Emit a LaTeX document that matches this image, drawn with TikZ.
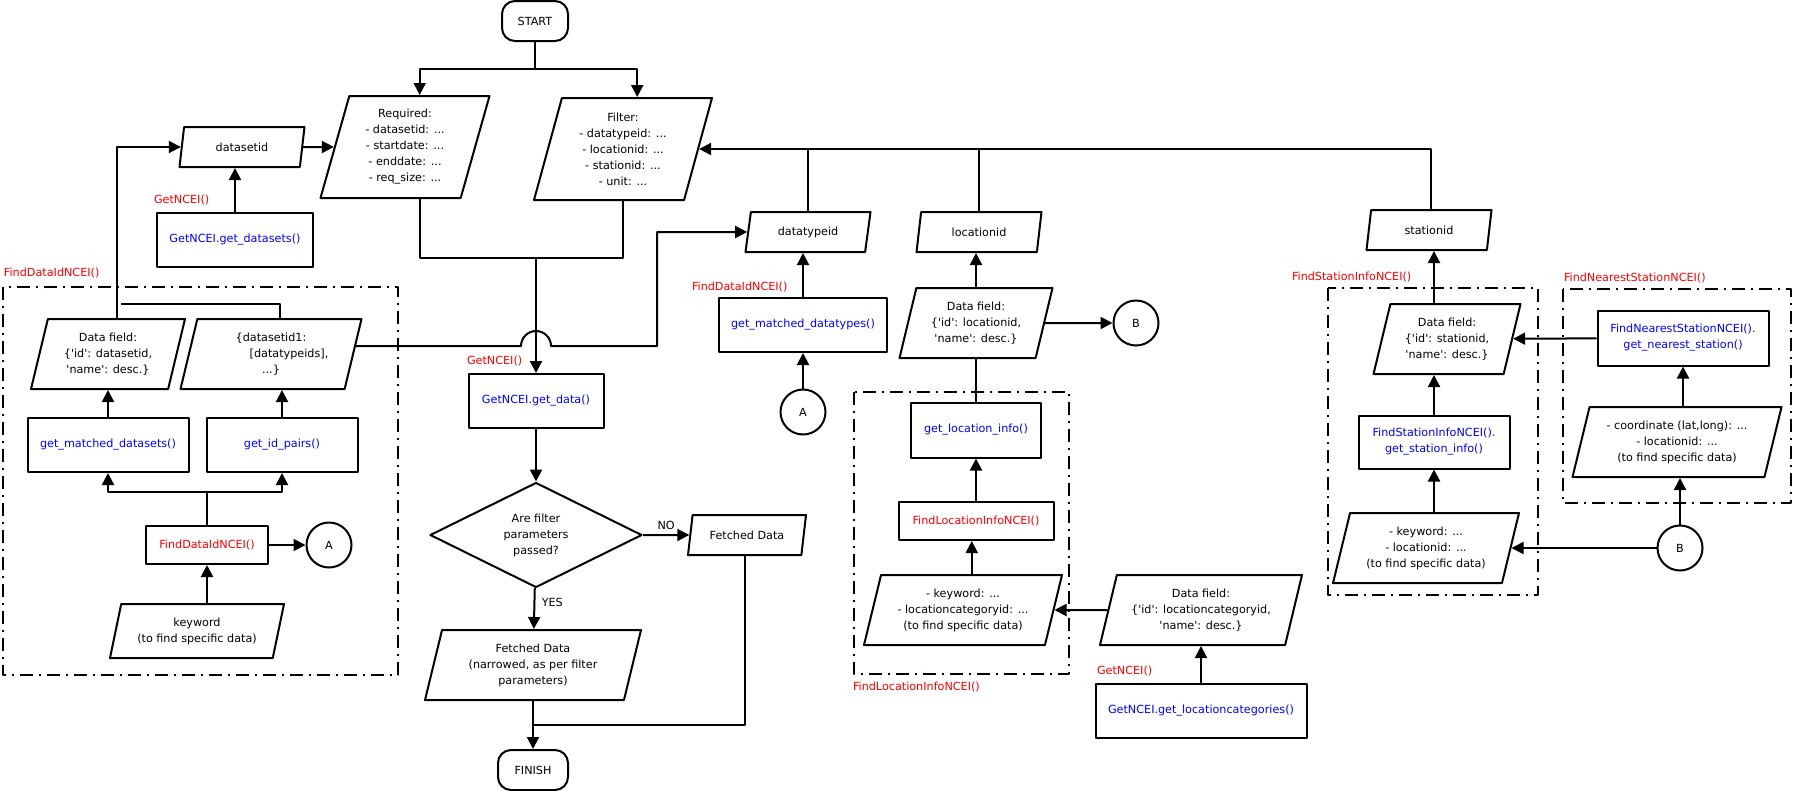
\documentclass[tikz,border=0pt]{standalone}
\usepackage{fontspec}
\setmainfont{DejaVu Sans}
\usetikzlibrary{shapes.geometric,arrows.meta}
\newcommand{\sq}{\textquotesingle}
\begin{document}
\begin{tikzpicture}[x=1pt, y=-1pt, line join=round, line width=2pt, >={Triangle[length=12pt,width=12pt]},
	font=\fontsize{11.2}{16}\selectfont,
	proc/.style={draw, rectangle, minimum height=54pt, inner sep=2pt, align=center, text=blue},
	io/.style={draw, trapezium, trapezium left angle=70, trapezium right angle=110, trapezium stretches body, minimum height=#1, inner sep=2pt, align=center},
	io/.default=70pt,
	term/.style={draw, rectangle, rounded corners=13pt, minimum height=40pt},
	conn/.style={draw, circle, minimum size=45pt, inner sep=0pt},
	grp/.style={line width=2pt, dash pattern=on 13pt off 6pt on 2pt off 6pt},
	lbl/.style={anchor=west, inner sep=0pt, text=red}]
	\useasboundingbox (0,0) rectangle (1795,790);
	
	\node[term, minimum width=66pt] (start) at (535,21) {START};
	\node[io=102pt, minimum width=169pt] (required) at (405,147) {Required:\\- datasetid: ...\\- startdate: ...\\- enddate: ...\\- req\_size: ...};
	\node[io=102pt, minimum width=178pt] (filter) at (623,149) {Filter:\\- datatypeid: ...\\- locationid: ...\\- stationid: ...\\- unit: ...};
	\node[io=40pt, minimum width=125pt] (dsid) at (242,147) {datasetid};
	\node[proc, minimum width=156pt] (getds) at (235,240) {GetNCEI.get\_datasets()};
	
	\node[io, minimum width=154pt] (dfds) at (108,354) {Data field:\\\{\sq id\sq: datasetid,\\\sq name\sq: desc.\}};
	\node[io, minimum width=181pt] (pairs) at (271,354) {\{datasetid1:\\\hspace*{36pt}[datatypeids],\\...\}};
	\node[proc, minimum width=161pt] (getmds) at (108,445) {get\_matched\_datasets()};
	\node[proc, minimum width=151pt] (getpairs) at (282,445) {get\_id\_pairs()};
	\node[proc, text=red, minimum width=122pt, minimum height=38pt] (fdid) at (207,545) {FindDataIdNCEI()};
	\node[conn] (circA1) at (329,545) {A};
	\node[io=54pt, minimum width=174pt] (kw) at (197,631) {keyword\\(to find specific data)};
	
	\node[proc, minimum width=135pt] (getdata) at (536,401) {GetNCEI.get\_data()};
	\node[draw, diamond, aspect=2, inner sep=0pt, minimum width=212pt, minimum height=105pt, align=center] (dec) at (536,535) {Are filter\\parameters\\passed?};
	\node[io=40pt, minimum width=118pt] (fdno) at (747,535) {Fetched Data};
	\node[io, minimum width=216pt] (fdyes) at (533,665) {Fetched Data\\(narrowed, as per filter\\parameters)};
	\node[term, minimum width=70pt] (finish) at (533,770) {FINISH};
	
	\node[io=40pt, minimum width=125pt] (dtid) at (808,232) {datatypeid};
	\node[proc, minimum width=168pt] (gmdt) at (803,325) {get\_matched\_datatypes()};
	\node[conn] (circA2) at (803,412) {A};
	
	\node[io=40pt, minimum width=125pt] (locid) at (979,232) {locationid};
	\node[io, minimum width=153pt] (dfloc) at (976,323) {Data field:\\\{\sq id\sq: locationid,\\\sq name\sq: desc.\}};
	\node[conn] (circB1) at (1136,323) {B};
	\node[proc, minimum width=130pt, minimum height=55pt] (getloc) at (976,430) {get\_location\_info()};
	\node[proc, text=red, minimum width=155pt, minimum height=38pt] (floc) at (976,521) {FindLocationInfoNCEI()};
	\node[io, minimum width=198pt] (kwloc) at (963,610) {- keyword: ...\\- locationcategoryid: ...\\(to find specific data)};
	\node[io, minimum width=202pt] (dflc) at (1201,610) {Data field:\\\{\sq id\sq: locationcategoryid,\\\sq name\sq: desc.\}};
	\node[proc, minimum width=211pt] (getlc) at (1201,711) {GetNCEI.get\_locationcategories()};
	
	\node[io=40pt, minimum width=125pt] (stid) at (1429,230) {stationid};
	\node[io, minimum width=147pt] (dfst) at (1447,339) {Data field:\\\{\sq id\sq: stationid,\\\sq name\sq: desc.\}};
	\node[proc, minimum width=151pt, minimum height=53pt] (getst) at (1434,442) {FindStationInfoNCEI().\\get\_station\_info()};
	\node[io, minimum width=186pt] (kwst) at (1426,548) {- keyword: ...\\- locationid: ...\\(to find specific data)};
	\node[proc, minimum width=171pt, minimum height=55pt] (getns) at (1683,338) {FindNearestStationNCEI().\\get\_nearest\_station()};
	\node[io, minimum width=209pt] (coord) at (1677,442) {- coordinate (lat,long): ...\\- locationid: ...\\(to find specific data)};
	\node[conn] (circB2) at (1680,548) {B};
	
	\foreach \name/\x/\y/\txt in {l1/153/200/GetNCEI(), l2/3/273/FindDataIdNCEI(), l3/466/361/GetNCEI(), l4/691/287/FindDataIdNCEI(), l5/852/687/FindLocationInfoNCEI(), l6/1096/671/GetNCEI(), l7/1291/277/FindStationInfoNCEI(), l8/1563/278/FindNearestStationNCEI()}
	\node[lbl] (\name) at (\x,\y) {\txt};
	
	\foreach \a/\b in {{(3,287)}/{(398,675)}, {(854,392)}/{(1069,674)}, {(1328,288)}/{(1538,595)}, {(1563,289)}/{(1791,503)}}
	\draw[grp] \a rectangle \b;
	
	\path
	(535,69) coordinate (s1)
	(536,258) coordinate (m)
	(536,346) coordinate (jmp)
	(657,0) coordinate (colx)
	(121,304) coordinate (j1)
	(207,492) coordinate (j5)
	(533,725) coordinate (j4);
	
	\draw (start) -- (s1);
	\draw[->] (s1) -| (required.top side);
	\draw[->] (s1) -| (filter.top side);
	\draw[->] (dsid) -- (required);
	\draw[->] (getds) -- (getds |- dsid.south);
	\draw[->] (dfds.top side) |- (dsid);
	\draw (pairs.top side) |- (j1);
	\draw ([xshift=15pt]required.south) |- (m) -| (filter.south);
	\draw[->] (m) -- (getdata);
	\draw[->] (pairs.east |- jmp) -- ([xshift=-15pt]jmp) arc[start angle=180, end angle=0, radius=15pt] -| (colx |- dtid) -- (dtid);
	
	\draw[->] (getmds) -- (getmds |- dfds.south);
	\draw[->] (getpairs) -- (getpairs |- pairs.south);
	\draw (fdid) -- (j5);
	\draw[->] (j5) -| (getmds);
	\draw[->] (j5) -| (getpairs);
	\draw[->] (fdid) -- (circA1);
	\draw[->] (kw.north -| fdid) -- (fdid);
	
	\draw[->] (getdata) -- (dec);
	\draw[->] (dec.east) -- (fdno) node[midway, above=1pt] {NO};
	\draw[->] (dec) -- (fdyes) node[pos=0.35, right=3pt] {YES};
	\draw[->] (fdyes) -- (finish);
	\draw (fdno.bottom side) |- (j4);
	
	\draw[->] (stid.top side) |- (filter);
	\draw (dtid.north) -- (dtid.north |- filter);
	\draw (locid.north) -- (locid.north |- filter);
	\draw[->] (gmdt) -- (gmdt |- dtid.south);
	\draw[->] (circA2) -- (gmdt);
	
	\draw[->] (dfloc.north) -- (dfloc.north |- locid.south);
	\draw[->] (dfloc) -- (circB1);
	\draw (getloc) -- (getloc |- dfloc.south);
	\draw[->] (floc) -- (getloc);
	\draw[->] (kwloc.top side) -- (kwloc.top side |- floc.south);
	\draw[->] (dflc) -- (kwloc);
	\draw[->] (getlc) -- (getlc |- dflc.south);
	
	\draw[->] (dfst.north -| getst) -- (stid.south -| getst);
	\draw[->] (getst) -- (getst |- dfst.south);
	\draw[->] (kwst.north -| getst) -- (getst);
	\draw[->] (getns) -- (dfst);
	\draw[->] (coord.north -| getns) -- (getns);
	\draw[->] (circB2) -- (circB2 |- coord.south);
	\draw[->] (circB2) -- (kwst);
\end{tikzpicture}
\end{document}
